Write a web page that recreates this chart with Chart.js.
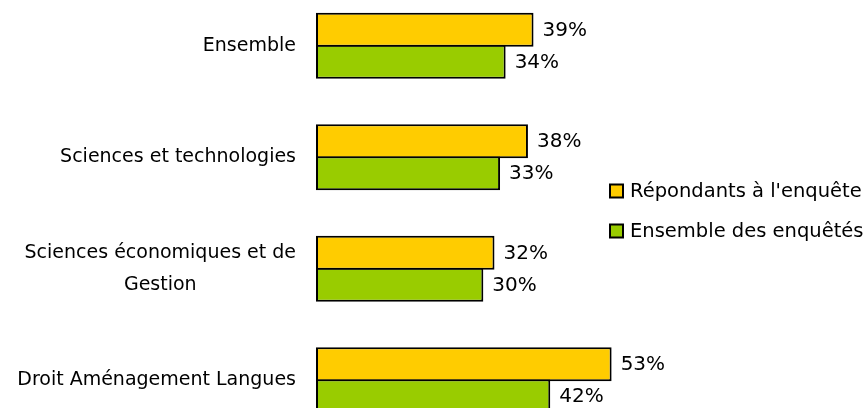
<!DOCTYPE html>
<html>
<head>
<meta charset="utf-8">
<script src="https://cdn.jsdelivr.net/npm/chart.js@4.4.0/dist/chart.umd.min.js"></script>
<style>
    html, body { margin: 0; padding: 0; background: #fff; overflow: hidden; }
    #wrap { position: absolute; left: 0; top: -10px; width: 871px; height: 446px; }
</style>
</head>
<body>
<div id="wrap"><canvas id="surveyChart"></canvas></div>
<script>
// Data
const categories = [
    ['Ensemble'],
    ['Sciences et technologies'],
    ['Sciences économiques et de', 'Gestion'],
    ['Droit Aménagement Langues']
];
const seriesNames = ["Répondants à l'enquête", 'Ensemble des enquêtés'];
const respondents = [39, 38, 32, 53];
const allSurveyed = [34, 33, 30, 42];
const seriesColors = ['#FFCC00', '#99CC00'];

const LABEL_FONT = '19px "DejaVu Sans", sans-serif';
const FONT = '20px "DejaVu Sans", sans-serif';
const LEGEND_FONT = '19.5px "DejaVu Sans", sans-serif';

// Category labels, centred line by line, right edge at x=296
const categoryLabels = {
    id: 'categoryLabels',
    afterDraw(chart) {
        const ctx = chart.ctx;
        const y = chart.scales.y;
        ctx.save();
        ctx.font = LABEL_FONT;
        ctx.fillStyle = '#000';
        ctx.textBaseline = 'middle';
        ctx.textAlign = 'center';
        categories.forEach((lines, i) => {
            const cy = y.getPixelForValue(i);
            const widest = Math.max(...lines.map(l => ctx.measureText(l).width));
            const cx = 296 - widest / 2;
            const lineH = 32;
            const top = cy - (lines.length - 1) * lineH / 2;
            lines.forEach((l, k) => ctx.fillText(l, cx, top + k * lineH));
        });
        ctx.restore();
    }
};

// Value labels at the end of each bar
const valueLabels = {
    id: 'valueLabels',
    afterDatasetsDraw(chart) {
        const ctx = chart.ctx;
        ctx.save();
        ctx.font = FONT;
        ctx.fillStyle = '#000';
        ctx.textBaseline = 'middle';
        ctx.textAlign = 'left';
        chart.data.datasets.forEach((ds, di) => {
            chart.getDatasetMeta(di).data.forEach((bar, i) => {
                ctx.fillText(ds.data[i] + '%', bar.x + 9, bar.y + 1);
            });
        });
        ctx.restore();
    }
};

// Legend on the right side
const sideLegend = {
    id: 'sideLegend',
    afterDraw(chart) {
        const ctx = chart.ctx;
        ctx.save();
        ctx.font = LEGEND_FONT;
        ctx.textBaseline = 'middle';
        ctx.textAlign = 'left';
        seriesNames.forEach((name, i) => {
            const cy = 201 + i * 40;
            ctx.fillStyle = seriesColors[i];
            ctx.fillRect(610, cy - 6.5, 13, 13);
            ctx.strokeStyle = '#000';
            ctx.lineWidth = 2;
            ctx.strokeRect(610, cy - 6.5, 13, 13);
            ctx.fillStyle = '#000';
            ctx.fillText(name, 630, cy + 1);
        });
        ctx.restore();
    }
};

new Chart(document.getElementById('surveyChart'), {
    type: 'bar',
    data: {
        labels: categories,
        datasets: [
            {
                label: seriesNames[0],
                data: respondents,
                backgroundColor: seriesColors[0],
                borderColor: '#000',
                borderWidth: 2,
                borderSkipped: false
            },
            {
                label: seriesNames[1],
                data: allSurveyed,
                backgroundColor: seriesColors[1],
                borderColor: '#000',
                borderWidth: 2,
                borderSkipped: false
            }
        ]
    },
    options: {
        indexAxis: 'y',
        responsive: true,
        maintainAspectRatio: false,
        animation: false,
        barPercentage: 1.06,
        categoryPercentage: 0.575,
        layout: { padding: { left: 316, right: 0, top: 0, bottom: 0 } },
        plugins: {
            legend: { display: false },
            tooltip: { enabled: false }
        },
        scales: {
            x: { display: false, min: 0, max: 99.5 },
            y: { display: false }
        }
    },
    plugins: [categoryLabels, valueLabels, sideLegend]
});
</script>
</body>
</html>
